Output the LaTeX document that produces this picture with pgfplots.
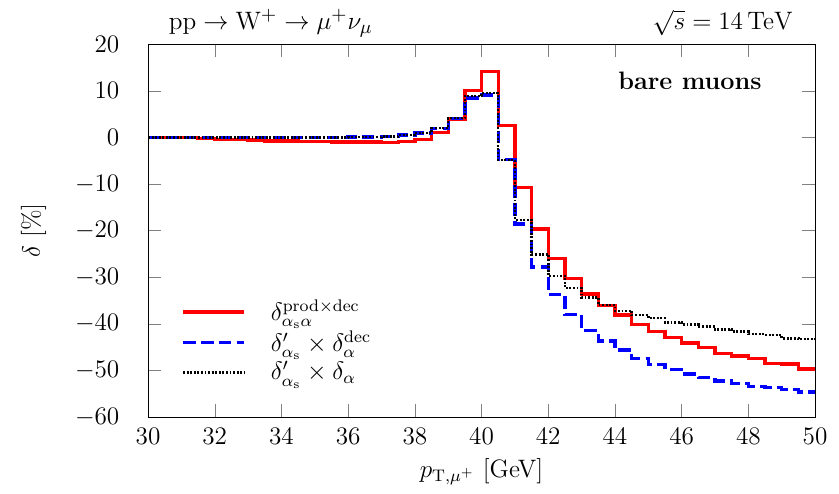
\documentclass[border=0pt,12pt]{standalone}
\usepackage{pgfplots}
\usepackage{pgfplotstable}
\pgfplotsset{compat=1.18}
\pgfplotstableread{
x r b k
30.0 0.0 0.0 0.0
30.5 0.0 0.0 0.0
31.0 -0.05 0.0 0.0
31.5 -0.2 0.0 0.0
32.0 -0.5 0.0 0.0
32.5 -0.45 0.0 0.0
33.0 -0.6 0.0 0.0
33.5 -0.75 0.0 0.0
34.0 -0.8 0.0 0.0
34.5 -0.85 0.0 0.0
35.0 -0.9 0.0 0.0
35.5 -1.0 0.0 0.0
36.0 -1.0 0.05 0.05
36.5 -1.0 0.1 0.1
37.0 -1.1 0.2 0.2
37.5 -0.86 0.5 0.5
38.0 -0.4 0.9 0.9
38.5 1.1 1.9 2.0
39.0 3.9 4.0 4.1
39.5 10.1 8.4 8.9
40.0 14.1 9.1 9.5
40.5 2.5 -4.7 -4.9
41.0 -10.8 -18.6 -17.7
41.5 -19.7 -27.8 -25.1
42.0 -26.0 -33.7 -29.7
42.5 -30.3 -38.0 -32.3
43.0 -33.6 -41.4 -34.4
43.5 -36.1 -43.7 -36.0
44.0 -38.1 -45.6 -37.2
44.5 -40.1 -47.4 -38.1
45.0 -41.7 -48.7 -38.8
45.5 -43.0 -49.8 -39.7
46.0 -44.1 -50.8 -40.1
46.5 -45.1 -51.5 -40.6
47.0 -46.4 -52.3 -41.2
47.5 -46.9 -52.8 -41.7
48.0 -47.4 -53.4 -42.2
48.5 -48.5 -53.6 -42.4
49.0 -48.6 -54.1 -43.1
49.5 -49.7 -54.6 -43.3
50.0 -49.7 -54.6 -43.3
}\data
\begin{document}
\begin{tikzpicture}
\begin{axis}[
  name=ax,
  scale only axis,
  width=317.6pt, height=177.6pt,
  xmin=30, xmax=50, ymin=-60, ymax=20,
  xtick={30,32,...,50}, ytick={-60,-50,...,20},
  tick align=inside,
  major tick length=6pt,
  minor tick num=0,
  yticklabel style={xshift=-9.5pt},
  xticklabel style={yshift=-1pt},
  xlabel={$p_{\mathrm{T},\mu^+}$ [GeV]},
  ylabel={$\delta$ [\%]},
  every axis y label/.style={at={([xshift=-54.5pt]rel axis cs:0,0.5)}, rotate=90, anchor=center},
  every axis x label/.style={at={([yshift=-26pt]rel axis cs:0.5,0)}, anchor=center},
  clip=false,
  legend cell align=left,
  legend style={draw=none, fill=none, at={(rel axis cs:0.04,0.066)}, anchor=south west, row sep=-1pt, font=\normalsize,
    /tikz/every odd column/.append style={column sep=10pt}},
  legend image code/.code={\draw[#1] (0pt,0pt) -- (29pt,0pt);},
]
\addplot[const plot mark left, red, line width=1.6pt] table[x=x,y=r] {\data};
\addlegendentry{$\delta^{\mathrm{prod}\times\mathrm{dec}}_{\alpha_{\mathrm{s}}\alpha}$}
\addplot[const plot mark left, blue, line width=1.6pt, dash pattern=on 6pt off 2.5pt] table[x=x,y=b] {\data};
\addlegendentry{$\delta'_{\alpha_{\mathrm{s}}}\times\delta^{\mathrm{dec}}_{\alpha}$}
\addplot[const plot mark left, black, line width=1.2pt, dash pattern=on 0.9pt off 0.8pt] table[x=x,y=k] {\data};
\addlegendentry{$\delta'_{\alpha_{\mathrm{s}}}\times\delta_{\alpha}$}
\node[anchor=base west, font=\fontsize{13pt}{15.5pt}\selectfont] at ([yshift=6.8pt]rel axis cs:0.018,1) {$\mathrm{pp}\to\mathrm{W}^+\to\mu^+\nu_\mu$};
\node[anchor=base east, font=\fontsize{13pt}{15.5pt}\selectfont] at ([yshift=6.8pt]rel axis cs:0.98,1) {$\sqrt{s}=14\,\mathrm{TeV}$};
\node[anchor=base east] at ([yshift=-21.4pt]rel axis cs:0.933,1) {\textbf{bare muons}};
\end{axis}
\pgfresetboundingbox
\path ([shift={(-70.5pt,-36.2pt)}]ax.south west) rectangle ([shift={(11.4pt,21pt)}]ax.north east);
\end{tikzpicture}
\end{document}
